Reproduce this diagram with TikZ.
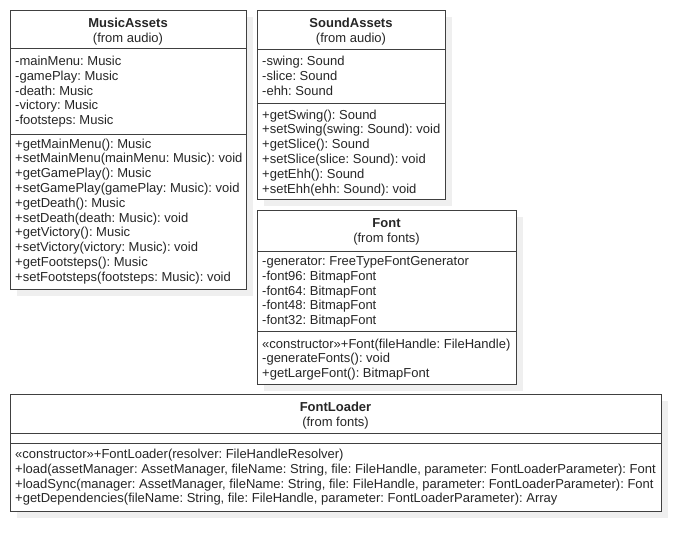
\documentclass[tikz,border=0pt]{standalone}
\usepackage{fontspec}
\setmainfont{Liberation Sans}
\definecolor{linec}{HTML}{404040}
\definecolor{txtc}{HTML}{262626}
\definecolor{shadowc}{HTML}{EFEFEF}
\tikzset{
  box/.style={draw=linec, line width=1pt, fill=white, inner sep=0pt, anchor=north west},
  shadowbox/.style={fill=shadowc, draw=none, inner sep=0pt, anchor=north west},
  divider/.style={draw=linec, line width=1pt},
  txt/.style={inner sep=0pt, text=txtc, font=\fontsize{13}{14.8}\selectfont\frenchspacing},
  ttl/.style={txt, font=\fontsize{13}{14.8}\selectfont\bfseries, anchor=base},
  sub/.style={txt, anchor=base},
}
\newcommand\umllines[4]{%
  \foreach \t [count=\i from 0] in {#4} {\node[txt, anchor=base west] (#1\i) at (#2, #3+\i*14.8) {\t};}}
\begin{document}
\begin{tikzpicture}[x=1pt, y=-1pt]
\useasboundingbox (0,0) rectangle (700,551);
\fill[white] (0,0) rectangle (700,551);
% shadows
\node[shadowbox, minimum width=236, minimum height=279] (musicsh) at (17,17) {};
\node[shadowbox, minimum width=188, minimum height=189] (soundsh) at (264,17) {};
\node[shadowbox, minimum width=259, minimum height=174] (fontsh) at (264,217) {};
\node[shadowbox, minimum width=651, minimum height=117] (loadersh) at (17,401) {};
% MusicAssets
\node[box, minimum width=236, minimum height=279] (music) at (10,10) {};
\draw[divider] (music.west |- 0,49) -- (music.east |- 0,49);
\draw[divider] (music.west |- 0,134) -- (music.east |- 0,134);
\node[ttl] (musict) at (128,27.5) {MusicAssets};
\node[sub] (musics) at (128,42.5) {(from audio)};
\umllines{musa}{15}{65.5}{-mainMenu: Music,-gamePlay: Music,-death: Music,-victory: Music,-footsteps: Music}
\umllines{musm}{15}{148}{+getMainMenu(): Music,+setMainMenu(mainMenu: Music): void,+getGamePlay(): Music,+setGamePlay(gamePlay: Music): void,+getDeath(): Music,+setDeath(death: Music): void,+getVictory(): Music,+setVictory(victory: Music): void,+getFootsteps(): Music,+setFootsteps(footsteps: Music): void}
% SoundAssets
\node[box, minimum width=188, minimum height=189] (sound) at (257,10) {};
\draw[divider] (sound.west |- 0,50) -- (sound.east |- 0,50);
\draw[divider] (sound.west |- 0,103) -- (sound.east |- 0,103);
\node[ttl] (soundt) at (351,27.5) {SoundAssets};
\node[sub] (sounds) at (351,42.5) {(from audio)};
\umllines{snda}{262}{65.5}{-swing: Sound,-slice: Sound,-ehh: Sound}
\umllines{sndm}{262}{119}{+getSwing(): Sound,+setSwing(swing: Sound): void,+getSlice(): Sound,+setSlice(slice: Sound): void,+getEhh(): Sound,+setEhh(ehh: Sound): void}
% Font
\node[box, minimum width=259, minimum height=174] (font) at (257,210) {};
\draw[divider] (font.west |- 0,251) -- (font.east |- 0,251);
\draw[divider] (font.west |- 0,331) -- (font.east |- 0,331);
\node[ttl] (fontt) at (386.5,227.5) {Font};
\node[sub] (fonts) at (386.5,242.5) {(from fonts)};
\umllines{fnta}{262}{265.5}{-generator: FreeTypeFontGenerator,-font96: BitmapFont,-font64: BitmapFont,-font48: BitmapFont,-font32: BitmapFont}
\umllines{fntm}{262}{348}{«constructor»+Font(fileHandle: FileHandle),-generateFonts(): void,+getLargeFont(): BitmapFont}
% FontLoader
\node[box, minimum width=651, minimum height=117] (loader) at (10,394) {};
\draw[divider] (loader.west |- 0,433) -- (loader.east |- 0,433);
\draw[divider] (loader.west |- 0,443) -- (loader.east |- 0,443);
\node[ttl] (loadert) at (335.5,411.5) {FontLoader};
\node[sub] (loaders) at (335.5,426.5) {(from fonts)};
\umllines{ldm}{15}{458.5}{«constructor»+FontLoader(resolver: FileHandleResolver),{+load(assetManager: AssetManager, fileName: String, file: FileHandle, parameter: FontLoaderParameter): Font},{+loadSync(manager: AssetManager, fileName: String, file: FileHandle, parameter: FontLoaderParameter): Font},{+getDependencies(fileName: String, file: FileHandle, parameter: FontLoaderParameter): Array}}
\end{tikzpicture}
\end{document}
